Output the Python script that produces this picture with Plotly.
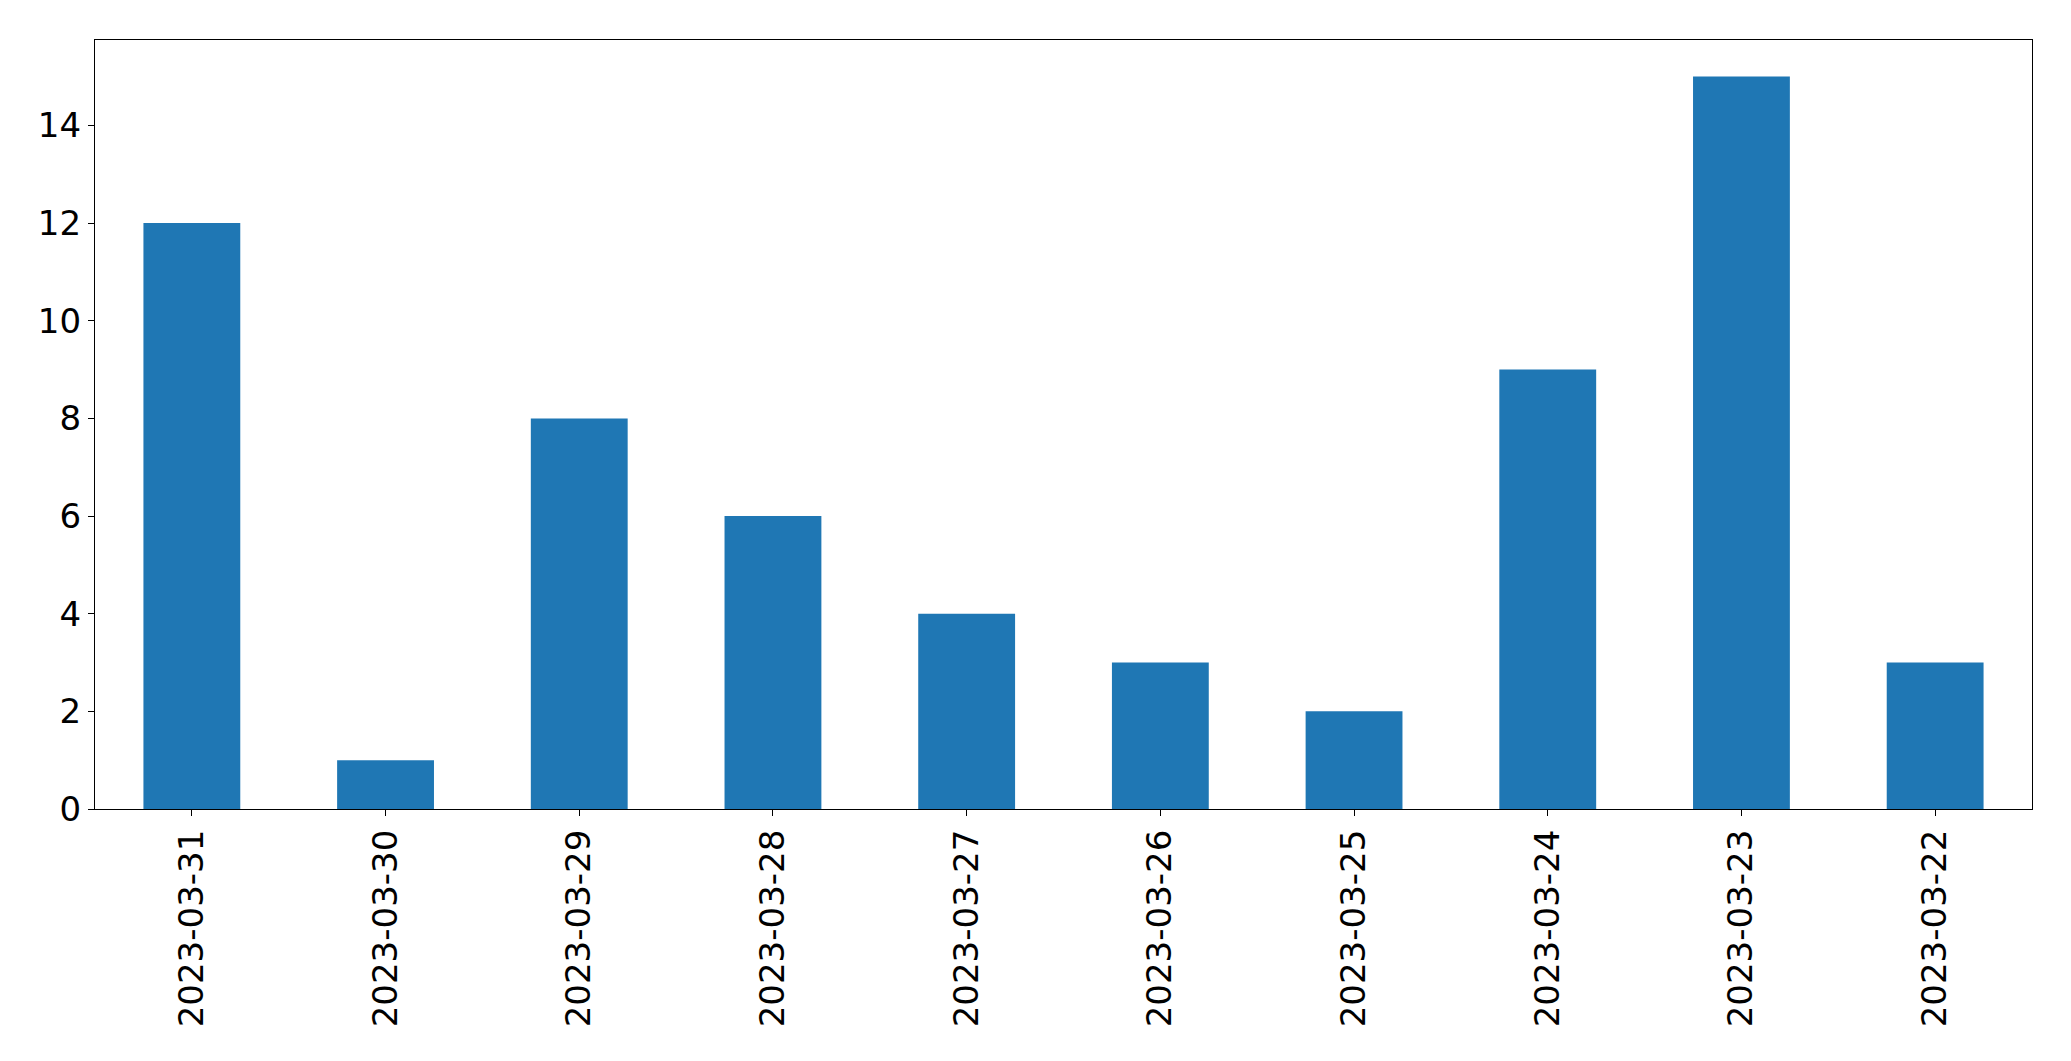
import plotly.graph_objects as go

dates = ["2023-03-31", "2023-03-30", "2023-03-29", "2023-03-28", "2023-03-27",
         "2023-03-26", "2023-03-25", "2023-03-24", "2023-03-23", "2023-03-22"]
counts = [12, 1, 8, 6, 4, 3, 2, 9, 15, 3]
y_ticks = [0, 2, 4, 6, 8, 10, 12, 14]

fig = go.Figure(go.Bar(x=dates, y=counts, width=0.5, marker=dict(color="#1f77b4", line=dict(width=0))))

fig.update_layout(
    width=2071, height=1061,
    margin=dict(l=95, r=39, t=40, b=252, pad=0),
    plot_bgcolor="white", paper_bgcolor="white",
    font=dict(family="DejaVu Sans", size=34, color="black"),
    showlegend=False,
)
fig.update_xaxes(
    type="category", range=[-0.5, 9.5], tickangle=-90,
    showline=True, linecolor="black", linewidth=1.2, mirror=True,
    ticks="outside", ticklen=6, tickwidth=1.2, tickcolor="black",
    showgrid=False, zeroline=False,
)
fig.update_yaxes(
    range=[0, 15.75], tickvals=y_ticks,
    showline=True, linecolor="black", linewidth=1.2, mirror=True,
    ticks="outside", ticklen=6, tickwidth=1.2, tickcolor="black",
    showgrid=False, zeroline=False,
)
fig.write_html("out.html")
